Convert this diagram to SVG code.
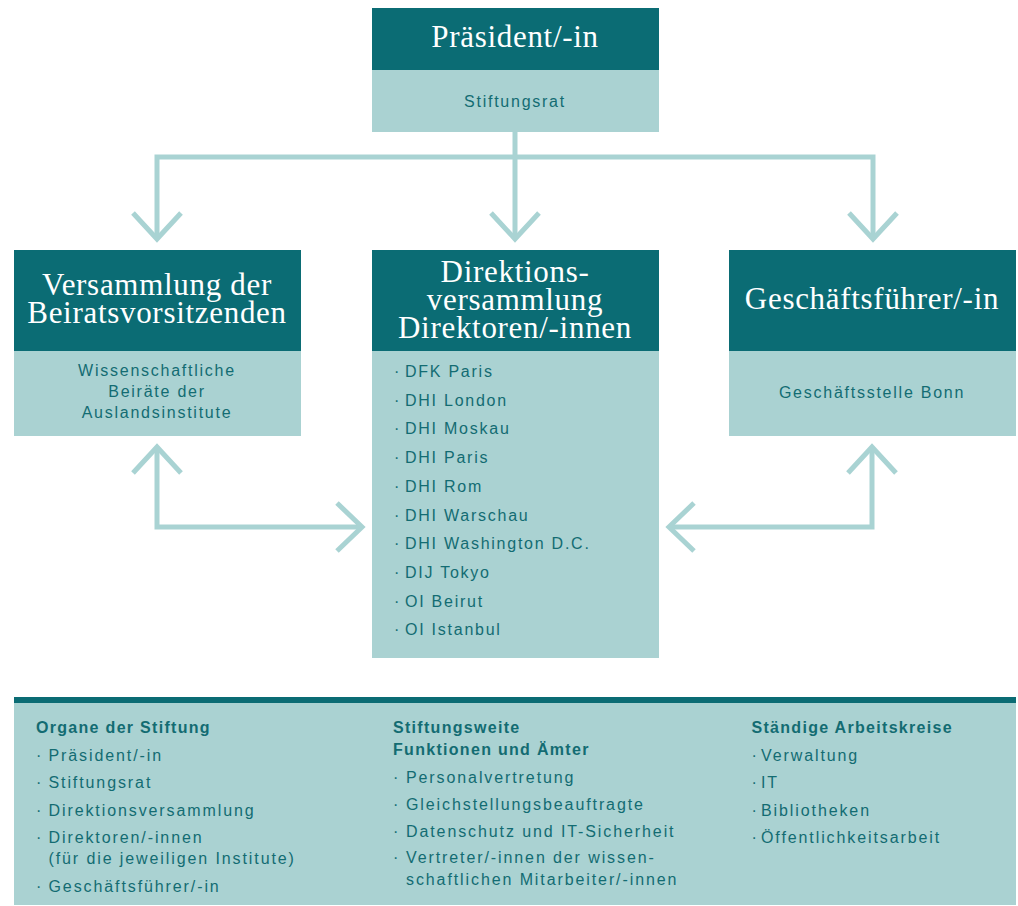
<svg xmlns="http://www.w3.org/2000/svg" width="1018" height="906" viewBox="0 0 1018 906">
<style>
.dark{fill:#0b6c74}
.light{fill:#aad2d2}
.title{font-family:"Liberation Serif","Times New Roman",serif;font-size:31px;letter-spacing:0.7px;fill:#ffffff;text-anchor:middle}
.txt{font-family:"Liberation Sans",Arial,sans-serif;font-size:16px;letter-spacing:1.75px;fill:#136c72}
.mid{text-anchor:middle}
.leg{font-family:"Liberation Sans",Arial,sans-serif;font-size:16px;letter-spacing:1.9px;fill:#136c72}
.legh{font-family:"Liberation Sans",Arial,sans-serif;font-size:16px;font-weight:bold;letter-spacing:1.3px;fill:#136c72}
.conn{fill:none;stroke:#a9d3d3;stroke-width:5}
</style>
<rect width="1018" height="906" fill="#ffffff"/>
<g id="connectors" class="conn">
<path d="M515 132 L515 239"/>
<path d="M157 239 L157 157 L873 157 L873 239"/>
<path d="M133 213 L157 239 L181 213"/>
<path d="M491 213 L515 239 L539 213"/>
<path d="M849 213 L873 239 L897 213"/>
<path d="M157 449 L157 527 L361 527"/>
<path d="M133 473 L157 447 L181 473"/>
<path d="M337 503 L362 527 L337 551"/>
<path d="M872 449 L872 527 L669 527"/>
<path d="M848 473 L872 447 L896 473"/>
<path d="M694 503 L669 527 L694 551"/>
</g>
<g id="praesident">
<rect class="dark" x="372" y="8" width="287" height="62"/>
<rect class="light" x="372" y="70" width="287" height="62"/>
<text class="title" x="515" y="47">Präsident/-in</text>
<text class="txt mid" x="515" y="107">Stiftungsrat</text>
</g>
<g id="beirat">
<rect class="dark" x="14" y="250" width="287" height="101"/>
<rect class="light" x="14" y="351" width="287" height="85"/>
<text class="title" x="157" y="295">Versammlung der</text>
<text class="title" x="157" y="323">Beiratsvorsitzenden</text>
<text class="txt mid" x="157" y="376">Wissenschaftliche</text>
<text class="txt mid" x="157" y="397">Beiräte der</text>
<text class="txt mid" x="157" y="418">Auslandsinstitute</text>
</g>
<g id="direktion">
<rect class="dark" x="372" y="250" width="287" height="101"/>
<rect class="light" x="372" y="351" width="287" height="307"/>
<text class="title" x="515" y="282">Direktions-</text>
<text class="title" x="515" y="310">versammlung</text>
<text class="title" x="515" y="338">Direktoren/-innen</text>
<g class="txt">
<text y="377"><tspan x="394">·</tspan><tspan x="405">DFK Paris</tspan></text>
<text y="405.7"><tspan x="394">·</tspan><tspan x="405">DHI London</tspan></text>
<text y="434.4"><tspan x="394">·</tspan><tspan x="405">DHI Moskau</tspan></text>
<text y="463.1"><tspan x="394">·</tspan><tspan x="405">DHI Paris</tspan></text>
<text y="491.8"><tspan x="394">·</tspan><tspan x="405">DHI Rom</tspan></text>
<text y="520.5"><tspan x="394">·</tspan><tspan x="405">DHI Warschau</tspan></text>
<text y="549.2"><tspan x="394">·</tspan><tspan x="405">DHI Washington D.C.</tspan></text>
<text y="577.9"><tspan x="394">·</tspan><tspan x="405">DIJ Tokyo</tspan></text>
<text y="606.6"><tspan x="394">·</tspan><tspan x="405">OI Beirut</tspan></text>
<text y="635.3"><tspan x="394">·</tspan><tspan x="405">OI Istanbul</tspan></text>
</g>
</g>
<g id="geschaeftsfuehrer">
<rect class="dark" x="729" y="250" width="287" height="101"/>
<rect class="light" x="729" y="351" width="287" height="85"/>
<text class="title" x="872" y="309">Geschäftsführer/-in</text>
<text class="txt mid" x="872" y="398">Geschäftsstelle Bonn</text>
</g>
<g id="legende">
<rect class="dark" x="14" y="697" width="1002" height="6"/>
<rect class="light" x="14" y="703" width="1002" height="202"/>
<text class="legh" x="36" y="733.3">Organe der Stiftung</text>
<g class="leg">
<text y="760.7"><tspan x="36">·</tspan><tspan x="48.5">Präsident/-in</tspan></text>
<text y="788.2"><tspan x="36">·</tspan><tspan x="48.5">Stiftungsrat</tspan></text>
<text y="815.7"><tspan x="36">·</tspan><tspan x="48.5">Direktionsversammlung</tspan></text>
<text y="843.2"><tspan x="36">·</tspan><tspan x="48.5">Direktoren/-innen</tspan></text>
<text x="48.5" y="864.2">(für die jeweiligen Institute)</text>
<text y="891.7"><tspan x="36">·</tspan><tspan x="48.5">Geschäftsführer/-in</tspan></text>
</g>
<text class="legh" x="393" y="733.3">Stiftungsweite</text>
<text class="legh" x="393" y="755">Funktionen und Ämter</text>
<g class="leg">
<text y="782.7"><tspan x="393">·</tspan><tspan x="406">Personalvertretung</tspan></text>
<text y="809.7"><tspan x="393">·</tspan><tspan x="406">Gleichstellungsbeauftragte</tspan></text>
<text y="836.7"><tspan x="393">·</tspan><tspan x="406">Datenschutz und IT-Sicherheit</tspan></text>
<text y="863.3"><tspan x="393">·</tspan><tspan x="406">Vertreter/-innen der wissen-</tspan></text>
<text x="406" y="885">schaftlichen Mitarbeiter/-innen</text>
</g>
<text class="legh" x="751.5" y="733.3">Ständige Arbeitskreise</text>
<g class="leg">
<text y="760.7"><tspan x="751.5">·</tspan><tspan x="761">Verwaltung</tspan></text>
<text y="788.2"><tspan x="751.5">·</tspan><tspan x="761">IT</tspan></text>
<text y="815.7"><tspan x="751.5">·</tspan><tspan x="761">Bibliotheken</tspan></text>
<text y="843.2"><tspan x="751.5">·</tspan><tspan x="761">Öffentlichkeitsarbeit</tspan></text>
</g>
</g>
</svg>
